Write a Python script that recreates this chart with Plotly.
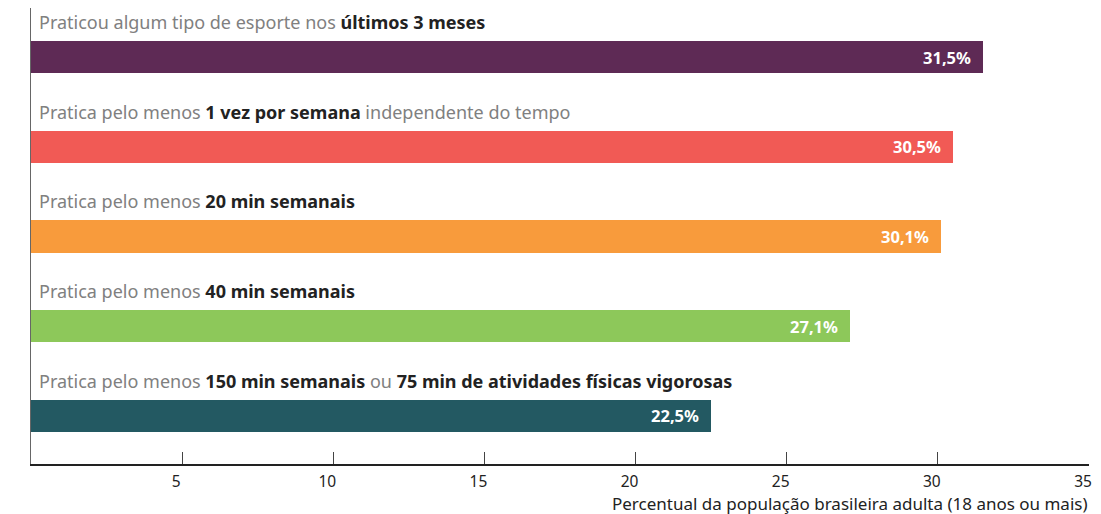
import plotly.graph_objects as go

labels_html = [
    "Praticou algum tipo de esporte nos <b>últimos 3 meses</b>",
    "Pratica pelo menos <b>1 vez por semana</b> independente do tempo",
    "Pratica pelo menos <b>20 min semanais</b>",
    "Pratica pelo menos <b>40 min semanais</b>",
    "Pratica pelo menos <b>150 min semanais</b> ou <b>75 min de atividades físicas vigorosas</b>",
]
values = [31.5, 30.5, 30.1, 27.1, 22.5]
value_text = ["31,5%", "30,5%", "30,1%", "27,1%", "22,5%"]
colors = ["#5E2A55", "#F15A55", "#F89B3C", "#8DC85A", "#235962"]
tick_vals = [5, 10, 15, 20, 25, 30, 35]
x_title = "Percentual da população brasileira adulta (18 anos ou mais)"

positions = list(range(len(values)))
FONT = "Noto Sans"

fig = go.Figure()
fig.add_trace(go.Bar(
    x=values, y=positions, orientation="h",
    marker=dict(color=colors, line=dict(width=0)),
    width=0.357, hoverinfo="skip",
))

for i, (v, t) in enumerate(zip(values, value_text)):
    fig.add_annotation(x=v, y=i, xref="x", yref="y", text="<b>" + t + "</b>",
                       showarrow=False, xanchor="right", yanchor="middle", xshift=-10,
                       font=dict(family=FONT, size=16.5, color="white"))

for i, lab in enumerate(labels_html):
    lab2 = lab.replace("<b>", "<span style='color:#222222'><b>").replace("</b>", "</b></span>")
    fig.add_annotation(x=0, y=i - 0.39, xref="x", yref="y", text=lab2,
                       showarrow=False, xanchor="left", yanchor="middle", xshift=6,
                       font=dict(family=FONT, size=18, color="#808080"))

fig.add_annotation(x=1, y=0, xref="paper", yref="paper", text=x_title,
                   showarrow=False, xanchor="right", yanchor="middle", yshift=-39,
                   borderpad=0,
                   font=dict(family=FONT, size=17, color="#222222"))

fig.update_layout(
    width=1093, height=506,
    margin=dict(l=23, r=12, t=0, b=50),
    paper_bgcolor="white", plot_bgcolor="white",
    showlegend=False, bargap=0,
    xaxis=dict(range=[0, 35], tickvals=tick_vals, ticks="inside", ticklen=12,
               tickcolor="#444444", tickwidth=1.2, showgrid=False, zeroline=False,
               showline=True, linecolor="#222222", linewidth=1.5,
               tickfont=dict(family=FONT, size=15.5, color="#222222"),
               ticklabelshift=-6, ticklabelstandoff=3),
    yaxis=dict(range=[4.535, -0.546], showticklabels=False, showgrid=False,
               zeroline=False, showline=True, linecolor="#666666", linewidth=1.2,
               ticks=""),
)

fig.write_html("out.html")
